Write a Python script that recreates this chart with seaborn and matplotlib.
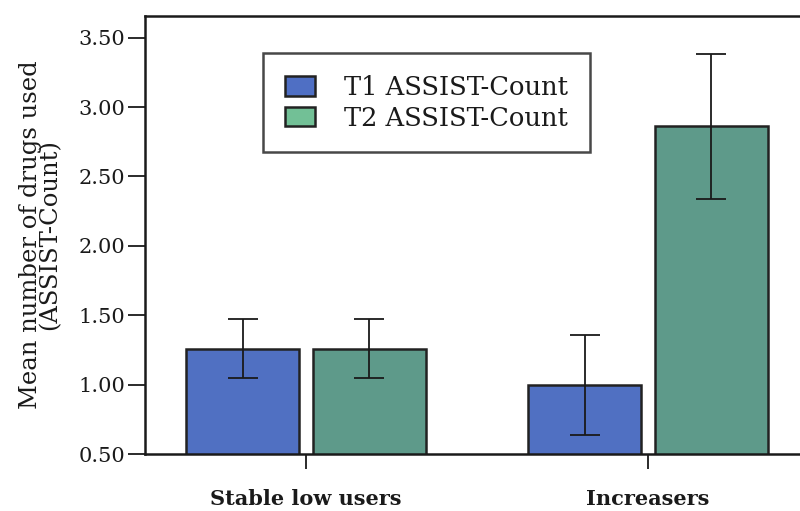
import matplotlib
matplotlib.use("Agg")
import matplotlib.pyplot as plt
from matplotlib.patches import Patch
import seaborn as sns
import pandas as pd

groups = ["Stable low users", "Increasers"]
series = ["T1 ASSIST-Count", "T2 ASSIST-Count"]
t1_means = [1.26, 1.00]
t2_means = [1.26, 2.86]
t1_err = [0.21, 0.36]
t2_err = [0.21, 0.52]

bar_colors = ["#5070c2", "#5e9a8a"]
legend_colors = ["#4f6fc4", "#72c096"]

df = pd.DataFrame({
    "group": groups * 2,
    "series": [series[0]] * 2 + [series[1]] * 2,
    "mean": t1_means + t2_means,
})

sns.set_theme(style="white")
plt.rcParams["font.family"] = ["DejaVu Serif"]

fig = plt.figure(figsize=(8.0, 5.11), dpi=100)
ax = fig.add_axes([0.181, 0.1115, 0.819, 0.8572])

sns.barplot(data=df, x="group", y="mean", hue="series", order=groups,
            hue_order=series, palette=bar_colors, width=0.74, gap=0.11,
            errorbar=None, edgecolor="#222222", linewidth=1.8,
            saturation=1, legend=False, ax=ax)

# error bars centred on each bar
for container, errs in zip(ax.containers, [t1_err, t2_err]):
    for bar, e in zip(container, errs):
        cx = bar.get_x() + bar.get_width() / 2
        ax.errorbar(cx, bar.get_height(), yerr=e, fmt="none",
                    ecolor="#1a1a1a", elinewidth=1.3, capsize=11,
                    capthick=1.3, zorder=5)

ax.set_ylim(0.5, 3.656)
ax.set_xlim(-0.471, 1.444)
ax.set_yticks([0.5, 1.0, 1.5, 2.0, 2.5, 3.0, 3.5])
ax.set_yticklabels([f"{v:.2f}" for v in ax.get_yticks()])

for side in ["left", "top", "bottom"]:
    ax.spines[side].set_visible(True)
    ax.spines[side].set_color("#1a1a1a")
    ax.spines[side].set_linewidth(1.8)
ax.spines["right"].set_visible(False)

ax.tick_params(axis="y", which="major", left=True, length=12, width=1.3,
               color="#1a1a1a", labelsize=15, pad=2, labelcolor="#1a1a1a")
ax.tick_params(axis="x", which="major", bottom=True, length=11, width=1.3,
               color="#1a1a1a", labelsize=15, pad=14, labelcolor="#1a1a1a")
for lbl in ax.get_xticklabels():
    lbl.set_fontweight("bold")

ax.set_xlabel("")
ax.set_ylabel("Mean number of drugs used\n(ASSIST-Count)", fontsize=17.5,
              color="#1a1a1a", linespacing=0.8, labelpad=12)

handles = [Patch(facecolor=c, edgecolor="#222222", linewidth=1.8) for c in legend_colors]
leg = ax.legend(handles, series, loc="upper left", bbox_to_anchor=(0.1807, 0.9155),
                frameon=True, fancybox=False, fontsize=18.5, handlelength=1.15,
                handleheight=0.8, handletextpad=1.15, borderpad=0.85,
                labelspacing=0.22, borderaxespad=0)
leg.get_frame().set_edgecolor("#1a1a1a")
leg.get_frame().set_linewidth(1.8)
for t in leg.get_texts():
    t.set_color("#1a1a1a")

fig.savefig("out.png", dpi=100)
